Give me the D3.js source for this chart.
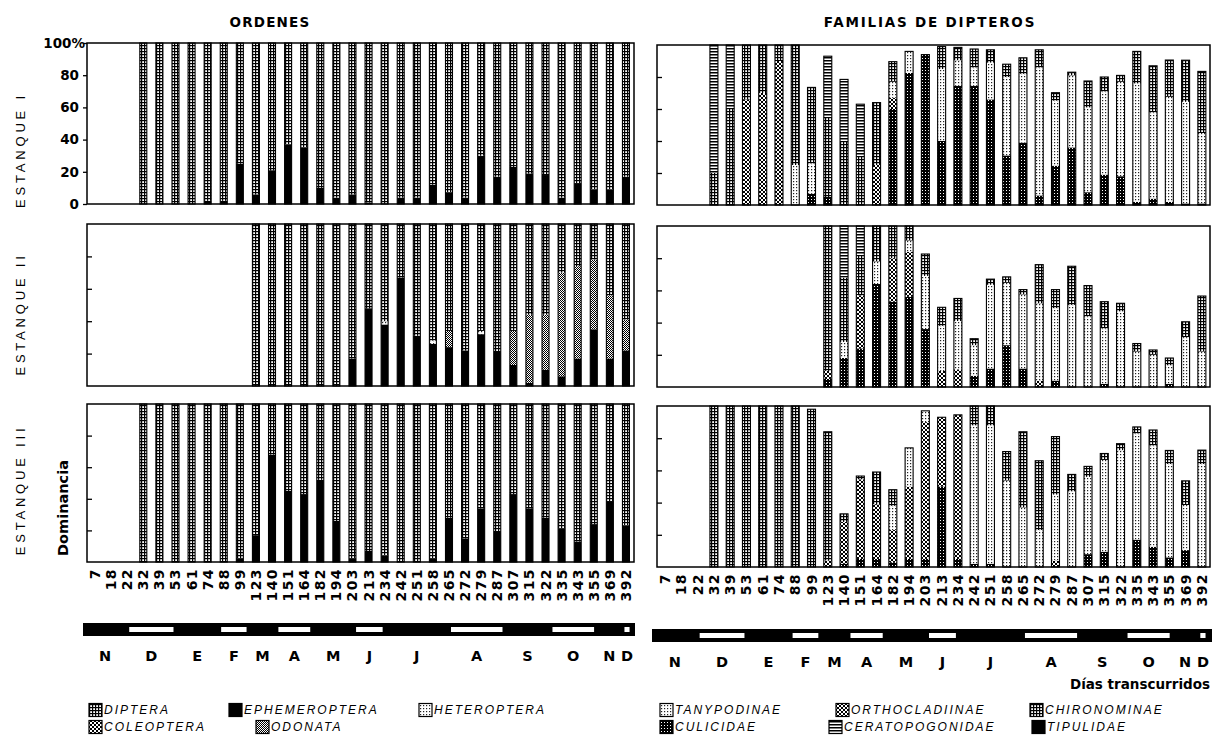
<!DOCTYPE html>
<html><head><meta charset="utf-8">
<script src="https://cdn.jsdelivr.net/npm/d3@7"></script>
<style>body{margin:0;background:#fff}svg{display:block}</style>
</head><body><svg id="c" width="1218" height="735"></svg>
<script>
const N = null;
const days = [7,18,22,32,39,53,61,74,88,99,123,140,151,164,182,194,203,213,234,242,251,258,265,272,279,287,307,315,322,335,343,355,369,392];
const dayLabels = days.map(String);
const monthLabels = ["N","D","E","F","M","A","M","J","J","A","S","O","N","D"];
const monthStarts = [-5,22,53,84,112,143,173,204,234,265,296,326,357,387,400];

// ORDENES (% dominance)
const ephemI  = [N,N,N,0,0,0,0,2,2,25,6,21,37,35,10,4,6,1,0,4,4,12,7,4,30,17,23,19,18,4,13,9,9,17];
const dipterI = [N,N,N,100,100,100,100,98,98,75,94,79,63,65,90,96,94,99,100,96,96,88,93,96,70,83,77,81,82,96,87,91,91,83];

const ephemII  = [N,N,N,N,N,N,N,N,N,N,0,0,0,0,0,0,17,48,38,67,31,26,24,22,32,21,13,2,10,6,17,35,17,22];
const heterII  = [N,N,N,N,N,N,N,N,N,N,0,0,0,0,0,0,0,0,2,0,0,2,0,0,2,0,0,0,0,0,0,0,0,0];
const odonII   = [N,N,N,N,N,N,N,N,N,N,0,0,0,0,0,0,0,0,0,0,0,0,10,0,0,0,21,42,34,64,57,43,39,19];
const dipterII = [N,N,N,N,N,N,N,N,N,N,100,100,100,100,100,100,83,52,60,33,69,72,66,78,66,79,66,56,56,30,26,22,44,59];

const ephemIII  = [N,N,N,0,0,0,0,0,0,2,17,68,45,43,52,26,2,7,4,0,0,2,28,15,34,19,43,34,28,21,13,24,38,23];
const dipterIII = [N,N,N,100,100,100,100,100,100,98,83,32,55,57,48,74,98,93,96,100,100,98,72,85,66,81,57,66,72,79,87,76,62,77];

// FAMILIAS DE DIPTEROS (% dominance)
const culI  = [N,N,N,0,0,0,0,0,0,7,5,0,0,0,60,82.5,94,40,74.5,74.5,66,31,39,6,24.6,36,8,19,18,2,4,2,1,1];
const ortI  = [N,N,N,0,0,66,70,90,0,0,0,0,0,25,7,0,0,0,0,0,0,0,0,0,0,0,0,0,0,0,0,0,0,0];
const tanI  = [N,N,N,0,0,0,0,0,25,19,0,0,0,0,10,13.5,0,45,16,11.5,23,49,43,80,40.6,45,53,52,59,74,54,65.6,63.5,44];
const chiI  = [N,N,N,20,60,34,30,10,75,47.5,50,40,30,39,12.6,0,0,14,8,11.5,8,8,10,11,5,2,16.5,9,4,20,29,23,26,38.5];
const cerI  = [N,N,N,80,40,0,0,0,0,0,38,38.5,33,0,0,0,0,0,0,0,0,0,0,0,0,0,0,0,0,0,0,0,0,0];

const culII = [N,N,N,N,N,N,N,N,N,N,5,18,24,64,53,56,36,0,0,7,11.5,26,11.5,0,4,0,0,2,0,0,0,2,0,0];
const ortII = [N,N,N,N,N,N,N,N,N,N,5,0,33,0,27,28,0,10,11,0,0,0,0,4,0,0,0,0,0,0,0,0,0,0];
const tanII = [N,N,N,N,N,N,N,N,N,N,0,10,0,14,0,7,33,28,30,19,52,38.7,46,48,45,51,44,34.5,47,22,20,11.5,31,22];
const chiII = [N,N,N,N,N,N,N,N,N,N,90,40,25,22,20,9,13.6,11.5,14,4,3.5,3.7,3,24,11.5,24,19,16.5,5,5,3,4.5,9.5,34.5];
const cerII = [N,N,N,N,N,N,N,N,N,N,0,32,18,0,0,0,0,0,0,0,0,0,0,0,0,0,0,0,0,0,0,0,0,0];

const culIII = [N,N,N,0,0,0,0,0,0,0,0,2,5,5,3,5,5,50,5,2,2,0,0,0,0,0,8,9.5,0,17,12.6,6,10.5,0];
const ortIII = [N,N,N,0,0,0,0,0,0,0,4,26,49.5,34,20,45,85,43,89.5,0,0,0,0,0,4,0,0,0,0,0,0,0,0,0];
const tanIII = [N,N,N,0,0,0,0,0,0,0,0,0,0,0,15,24,7,0,0,86,86,53.7,37,23,41,47,48,57,72.6,66,63,58,28,64];
const chiIII = [N,N,N,100,100,100,100,100,100,98,80,5,2,20,10,0,0,0,0,12,12,18,47,43,36,10.5,6.5,4,4,4,9.5,8.4,15,8.6];

const W = 1218, H = 735;
const svg = d3.select("#c");
svg.append("rect").attr("width", W).attr("height", H).attr("fill", "#fff");

// ---------- patterns ----------
const defs = svg.append("defs");
function pat(id, w, h, draw) {
  const p = defs.append("pattern").attr("id", id).attr("patternUnits", "userSpaceOnUse")
    .attr("width", w).attr("height", h);
  draw(p);
}
pat("p-grid", 3, 3, p => {
  p.append("rect").attr("width", 3).attr("height", 3).attr("fill", "#fff");
  p.append("rect").attr("width", 3).attr("height", 1.2).attr("fill", "#000");
  p.append("rect").attr("width", 1.2).attr("height", 3).attr("fill", "#000");
});
pat("p-dots", 3, 3, p => {
  p.append("rect").attr("width", 3).attr("height", 3).attr("fill", "#fff");
  p.append("rect").attr("x", 1).attr("y", 1).attr("width", 1.2).attr("height", 1.2).attr("fill", "#222");
});
pat("p-checker", 2, 2, p => {
  p.append("rect").attr("width", 2).attr("height", 2).attr("fill", "#fff");
  p.append("rect").attr("width", 1).attr("height", 1).attr("fill", "#000");
  p.append("rect").attr("x", 1).attr("y", 1).attr("width", 1).attr("height", 1).attr("fill", "#000");
});
pat("p-dark", 3, 3, p => {
  p.append("rect").attr("width", 3).attr("height", 3).attr("fill", "#000");
  p.append("rect").attr("x", 1).attr("y", 1).attr("width", 1).attr("height", 1).attr("fill", "#fff");
});
pat("p-cross", 4, 4, p => {
  p.append("rect").attr("width", 4).attr("height", 4).attr("fill", "#fff");
  p.append("path").attr("d", "M0,0L4,4M4,0L0,4").attr("stroke", "#000").attr("stroke-width", 1);
});
pat("p-hlines", 3, 3, p => {
  p.append("rect").attr("width", 3).attr("height", 3).attr("fill", "#fff");
  p.append("rect").attr("width", 3).attr("height", 1.5).attr("fill", "#000");
});

const F = {
  grid: "url(#p-grid)", dots: "url(#p-dots)", checker: "url(#p-checker)",
  dark: "url(#p-dark)", cross: "url(#p-cross)", hlines: "url(#p-hlines)", black: "#000"
};

const boldFont = "'DejaVu Sans', sans-serif";

// ---------- panel drawer ----------
function panel(cfg) {
  const { x0, x1, y0, y1, series, barW, outerTicks } = cfg;
  const x = d3.scaleBand().domain(days).range([x0, x1]);
  const y = d3.scaleLinear().domain([0, 100]).range([y1, y0]);
  const g = svg.append("g");
  const rows = days.map((d, i) => {
    const r = { day: d, present: series.some(s => s.values[i] != null) };
    series.forEach(s => r[s.key] = s.values[i] || 0);
    return r;
  }).filter(r => r.present);
  const stacked = d3.stack().keys(series.map(s => s.key))(rows);
  const bx = d => x(d) + (x.bandwidth() - barW) / 2;
  stacked.forEach((layer, li) => {
    g.selectAll(null).data(layer.filter(d => d[1] - d[0] > 0)).join("rect")
      .attr("x", d => bx(d.data.day)).attr("width", barW)
      .attr("y", d => y(d[1])).attr("height", d => y(d[0]) - y(d[1]))
      .attr("fill", series[li].fill);
  });
  const totals = rows.map(r => ({ day: r.day, total: d3.sum(series, s => r[s.key]) }));
  g.selectAll(null).data(totals).join("rect")
    .attr("x", d => bx(d.day)).attr("width", barW)
    .attr("y", d => y(d.total)).attr("height", d => y(0) - y(d.total))
    .attr("fill", "none").attr("stroke", "#000").attr("stroke-width", 1.1);
  g.append("rect").attr("x", x0).attr("y", y0).attr("width", x1 - x0).attr("height", y1 - y0)
    .attr("fill", "none").attr("stroke", "#000").attr("stroke-width", 1.5);
  if (outerTicks) {
    const ax = g.append("g").attr("transform", `translate(${x0},0)`)
      .call(d3.axisLeft(y).tickValues([0, 20, 40, 60, 80, 100]).tickSize(4).tickPadding(4)
        .tickFormat(d => d === 100 ? "100%" : d));
    ax.select(".domain").remove();
    ax.selectAll("line").attr("stroke-width", 1.3);
    ax.selectAll("text").attr("font-family", boldFont).attr("font-weight", "bold")
      .attr("font-size", 13.5).attr("fill", "#000")
      .attr("dx", d => d === 100 ? 6 : 0);
  } else {
    const ax = g.append("g").attr("transform", `translate(${x0},0)`)
      .call(d3.axisLeft(y).tickValues([20, 40, 60, 80]).tickSize(-5).tickFormat(""));
    ax.select(".domain").remove();
    ax.selectAll("line").attr("stroke-width", 1.3);
  }
  return { x, y };
}

const ordSeries = (eph, het, odo, dip) => [
  { key: "eph", values: eph, fill: F.black },
  { key: "het", values: het, fill: F.dots },
  { key: "odo", values: odo, fill: F.checker },
  { key: "dip", values: dip, fill: F.grid }
];
const famSeries = (cul, ort, tan, chi, cer) => [
  { key: "cul", values: cul, fill: F.dark },
  { key: "ort", values: ort, fill: F.cross },
  { key: "tan", values: tan, fill: F.dots },
  { key: "chi", values: chi, fill: F.grid },
  { key: "cer", values: cer, fill: F.hlines }
];
const zeros = days.map(() => 0);

const L = { x0: 87, x1: 634 };
const R = { x0: 657, x1: 1210 };
panel({ ...L, y0: 43, y1: 204, barW: 7, outerTicks: true, series: ordSeries(ephemI, zeros, zeros, dipterI) });
panel({ ...L, y0: 224, y1: 386, barW: 7, series: ordSeries(ephemII, heterII, odonII, dipterII) });
const pL3 = panel({ ...L, y0: 404, y1: 562, barW: 7, series: ordSeries(ephemIII, zeros, zeros, dipterIII) });
panel({ ...R, y0: 45, y1: 205, barW: 8, series: famSeries(culI, ortI, tanI, chiI, cerI) });
panel({ ...R, y0: 226, y1: 387, barW: 8, series: famSeries(culII, ortII, tanII, chiII, cerII) });
const pR3 = panel({ ...R, y0: 406, y1: 567, barW: 8, series: famSeries(culIII, ortIII, tanIII, chiIII, zeros) });

// ---------- x axes: day labels, month strip ----------
function xAxis(p, labelTop, stripX0, stripX1, stripY, monthY) {
  const x = p.x, bw = x.bandwidth();
  svg.append("g").selectAll("text").data(days).join("text")
    .attr("transform", (d) => `translate(${x(d) + bw / 2},${labelTop}) rotate(-90)`)
    .attr("text-anchor", "end").attr("dominant-baseline", "central")
    .attr("font-family", boldFont).attr("font-weight", "bold").attr("font-size", 14)
    .attr("letter-spacing", 1.4)
    .text((d, i) => dayLabels[i]);
  const dx = d3.scaleLinear().domain(days).range(days.map(d => x(d) + bw / 2));
  const cx = d => Math.max(stripX0, Math.min(stripX1, dx(d)));
  const sg = svg.append("g");
  sg.append("rect").attr("x", stripX0).attr("y", stripY).attr("width", stripX1 - stripX0)
    .attr("height", 13).attr("fill", "#000");
  const months = monthLabels.map((m, i) => ({ m, i, a: cx(monthStarts[i]), b: cx(monthStarts[i + 1]) }));
  sg.selectAll(null).data(months.filter(d => d.i % 2 === 1)).join("rect")
    .attr("x", d => d.a + 2).attr("width", d => Math.max(0, d.b - d.a - 4))
    .attr("y", stripY + 4).attr("height", 5).attr("fill", "#fff");
  sg.selectAll(null).data(months).join("text")
    .attr("x", d => (d.a + d.b) / 2).attr("y", monthY)
    .attr("text-anchor", "middle").attr("dominant-baseline", "central")
    .attr("font-family", boldFont).attr("font-weight", "bold").attr("font-size", 14.5)
    .text(d => d.m);
}
xAxis(pL3, 568, 83, 635, 623, 656);
xAxis(pR3, 573, 652, 1212, 629, 662);

// ---------- titles and labels ----------
function txt(x, y, s, o = {}) {
  const t = svg.append("text").attr("x", x).attr("y", y).text(s)
    .attr("font-family", o.family || boldFont).attr("font-size", o.size || 14)
    .attr("font-weight", o.weight || "bold").attr("text-anchor", o.anchor || "middle")
    .attr("dominant-baseline", "central").attr("fill", "#000");
  if (o.ls) t.attr("letter-spacing", o.ls);
  if (o.rot) t.attr("transform", `rotate(-90,${x},${y})`);
  if (o.style) t.attr("font-style", o.style);
  return t;
}
txt(270, 22, "ORDENES", { size: 13.5, ls: 1.2 });
txt(930, 22, "FAMILIAS DE DIPTEROS", { size: 13.5, ls: 1.8 });
const estFont = "'Liberation Sans', Arial, sans-serif";
txt(20, 150, "ESTANQUE I", { rot: true, weight: "normal", family: estFont, size: 13, ls: 3.8 });
txt(20, 314, "ESTANQUE II", { rot: true, weight: "normal", family: estFont, size: 13, ls: 3.8 });
txt(20, 490, "ESTANQUE III", { rot: true, weight: "normal", family: estFont, size: 13, ls: 3.8 });
txt(63, 508, "Dominancia", { rot: true, size: 14.5 });
txt(1210, 684, "Días transcurridos", { anchor: "end", size: 13.5 });

// ---------- legends ----------
const legendLeft = [
  { name: "DIPTERA", fill: F.grid, x: 89, row: 0 },
  { name: "EPHEMEROPTERA", fill: F.black, x: 229, row: 0 },
  { name: "HETEROPTERA", fill: F.dots, x: 419, row: 0 },
  { name: "COLEOPTERA", fill: F.cross, x: 89, row: 1 },
  { name: "ODONATA", fill: F.checker, x: 256, row: 1 }
];
const legendRight = [
  { name: "TANYPODINAE", fill: F.dots, x: 660, row: 0 },
  { name: "ORTHOCLADIINAE", fill: F.cross, x: 836, row: 0 },
  { name: "CHIRONOMINAE", fill: F.grid, x: 1030, row: 0 },
  { name: "CULICIDAE", fill: F.dark, x: 660, row: 1 },
  { name: "CERATOPOGONIDAE", fill: F.hlines, x: 829, row: 1 },
  { name: "TIPULIDAE", fill: F.black, x: 1032, row: 1 }
];
const rowY = [710, 727];
function legend(items) {
  const g = svg.append("g");
  const it = g.selectAll("g").data(items).join("g")
    .attr("transform", d => `translate(${d.x},${rowY[d.row]})`);
  it.append("rect").attr("x", 0).attr("y", -6.5).attr("width", 13).attr("height", 13)
    .attr("fill", d => d.fill).attr("stroke", "#000").attr("stroke-width", 1.2);
  it.append("text").attr("x", 15).attr("y", 0).attr("dominant-baseline", "central")
    .attr("font-family", estFont).attr("font-style", "italic").attr("font-size", 12)
    .attr("letter-spacing", 2).text(d => d.name);
}
legend(legendLeft);
legend(legendRight);
</script>
</body></html>
